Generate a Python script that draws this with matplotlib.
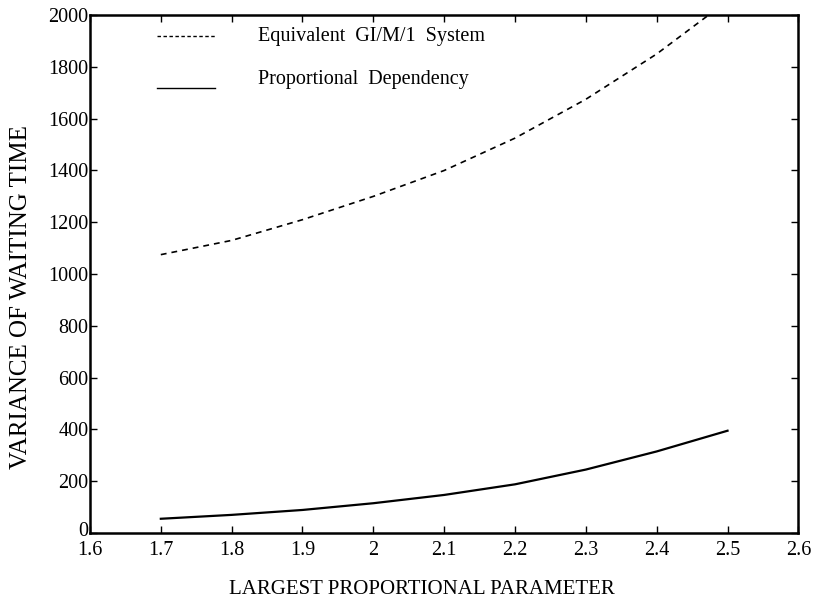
import matplotlib
matplotlib.use("Agg")
import matplotlib.pyplot as plt
from matplotlib.lines import Line2D
import matplotlib.transforms as mtransforms

plt.rcParams['font.family'] = ['Liberation Serif', 'DejaVu Serif']

# Data
x_param = [1.7, 1.8, 1.9, 2.0, 2.1, 2.2, 2.3, 2.4, 2.5]
gim1_var = [1075, 1130, 1210, 1300, 1400, 1525, 1675, 1850, 2055]
prop_var = [55, 70, 89, 115, 147, 188, 245, 315, 395]

x_ticks = [1.6, 1.7, 1.8, 1.9, 2.0, 2.1, 2.2, 2.3, 2.4, 2.5, 2.6]
x_tick_labels = ['1.6', '1.7', '1.8', '1.9', '2', '2.1', '2.2', '2.3', '2.4', '2.5', '2.6']
y_ticks = [0, 200, 400, 600, 800, 1000, 1200, 1400, 1600, 1800, 2000]

fig = plt.figure(figsize=(8.18, 6.05), dpi=100)
ax = fig.add_axes([0.110, 0.119, 0.866, 0.856])

ax.plot(x_param, gim1_var, color='black', lw=1.2, linestyle=(0, (3.5, 3)))
ax.plot(x_param, prop_var, color='black', lw=1.6)

ax.set_xlim(1.6, 2.6)
ax.set_ylim(0, 2000)
ax.set_xticks(x_ticks)
ax.set_xticklabels(x_tick_labels)
ax.set_yticks(y_ticks)
ax.tick_params(direction='in', length=5, width=1, top=True, right=True,
               labelsize=14.5)
ax.tick_params(axis='x', pad=6)
ax.tick_params(axis='y', pad=1)
for s in ax.spines.values():
    s.set_linewidth(1.8)

# lift the "0" label slightly so it sits above the x tick labels
fig.canvas.draw()
ylabels = ax.get_yticklabels()
offset = mtransforms.ScaledTranslation(0, 3 / 72, fig.dpi_scale_trans)
ylabels[0].set_transform(ylabels[0].get_transform() + offset)

ax.set_xlabel('LARGEST PROPORTIONAL PARAMETER', fontsize=15)
ax.xaxis.set_label_coords(0.468, -0.09)
ax.set_ylabel('VARIANCE OF WAITING TIME', fontsize=18)
ax.yaxis.set_label_coords(-0.082, 0.455)

# Legend drawn manually in axes fraction
tr = ax.transAxes
ax.add_line(Line2D([0.095, 0.176], [0.960, 0.960], transform=tr, color='black',
                   lw=1.0, linestyle=(0, (2.5, 1.8))))
ax.text(0.237, 0.958, 'Equivalent  GI/M/1  System', transform=tr, fontsize=14.5,
        va='center', ha='left')
ax.add_line(Line2D([0.095, 0.176], [0.860, 0.860], transform=tr, color='black',
                   lw=1.0))
ax.text(0.237, 0.875, 'Proportional  Dependency', transform=tr, fontsize=14.5,
        va='center', ha='left')

fig.savefig('out.png', dpi=100)
